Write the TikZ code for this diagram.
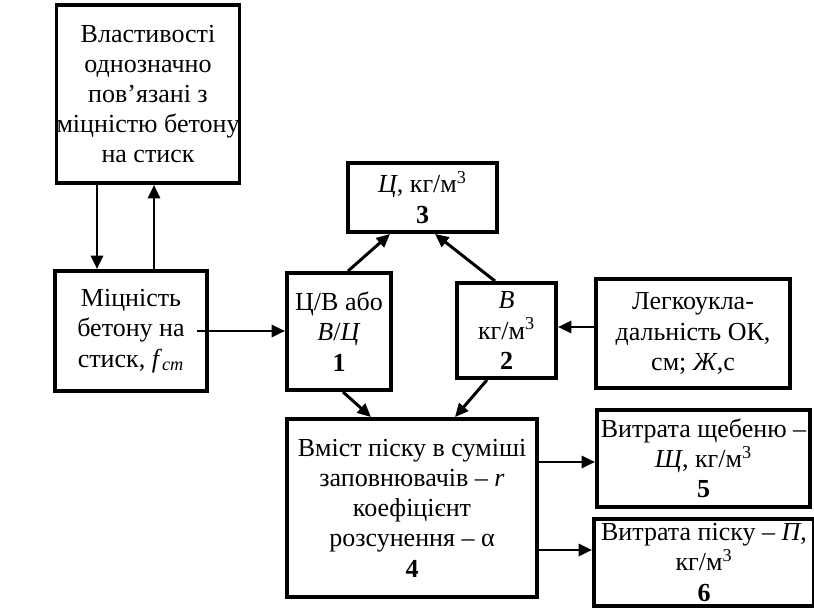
\documentclass[tikz,border=0pt]{standalone}
\usepackage{fontspec}
\setmainfont{Liberation Serif}
\usetikzlibrary{positioning, arrows.meta, calc}

\begin{document}
\begin{tikzpicture}[
  blk/.style 2 args={
    rectangle, draw=black, line width=2.2pt,
    minimum width=#1cm, minimum height=#2cm,
    align=center, inner sep=0pt,
    font=\fontsize{14.8}{17.2}\selectfont
  },
  arr/.style={line width=1.7pt, -{Triangle[length=0.27cm,width=0.24cm]}},
]

\useasboundingbox (0,0) rectangle (16.28,-12.22);

% properties linked to strength
\node[blk={3.64}{3.56}] (prop) at (2.96,-1.88) {
  Властивості\\
  однозначно\\
  пов’язані з\\
  міцністю бетону\\
  на стиск
};

% compressive strength
\node[blk={3.04}{2.40}] (fcm) at (2.62,-6.62) {
  Міцність\\
  бетону на\\
  стиск, \textit{f}\textsubscript{\textit{cm}}
};

% C/W ratio
\node[blk={2.08}{2.34}] (b1) at (6.78,-6.63) {
  Ц/В або\\
  \textit{В}/\textit{Ц}\\
  \textbf{1}
};

% water
\node[blk={1.98}{1.90}] (b2) at (10.13,-6.61) {
  \textit{В}\\
  кг/м\textsuperscript{3}\\
  \textbf{2}
};

% cement
\node[blk={2.98}{1.38}] (b3) at (8.45,-3.95) {
  \textit{Ц}, кг/м\textsuperscript{3}\\
  \textbf{3}
};

% workability
\node[blk={3.88}{2.18}] (work) at (13.86,-6.67) {
  Легкоукла-\\
  дальність ОК,\\
  см; \textit{Ж},с
};

% sand fraction
\node[blk={5.00}{3.56}] (b4) at (8.24,-10.16) {
  Вміст піску в суміші\\
  заповнювачів – \textit{r}\\
  коефіцієнт\\
  розсунення – α\\
  \textbf{4}
};

% crushed stone
\node[blk={4.26}{1.94}] (b5) at (14.07,-9.17) {
  Витрата щебеню –\\
  \textit{Щ}, кг/м\textsuperscript{3}\\
  \textbf{5}
};

% sand
\node[blk={4.40}{1.74}] (b6) at (14.08,-11.25) {
  Витрата піску – \textit{П},\\
  кг/м\textsuperscript{3}\\
  \textbf{6}
};

\draw[arr] ([xshift=-0.68cm]fcm.north |- prop.south) -- ([xshift=-0.68cm]fcm.north);
\draw[arr] ([xshift=0.46cm]fcm.north) -- ([xshift=0.46cm]fcm.north |- prop.south);
\draw[arr] ([xshift=-0.24cm]fcm.east) -- (fcm.east -| b1.west);
\draw[arr] ([xshift=0.18cm]b1.north) -- ([xshift=-0.65cm]b3.south);
\draw[arr] ([xshift=-0.23cm]b2.north) -- ([xshift=0.25cm]b3.south);
\draw[arr] ([yshift=0.13cm]work.west) -- ([yshift=0.13cm]work.west -| b2.east);
\draw[arr] ([xshift=0.08cm]b1.south) -- ([xshift=-0.82cm]b4.north);
\draw[arr] ([xshift=-0.39cm]b2.south) -- ([xshift=0.86cm]b4.north);
\draw[arr] ([yshift=0.92cm]b4.east) -- ([yshift=0.92cm]b4.east -| b5.west);
\draw[arr] ([yshift=-0.84cm]b4.east) -- ([yshift=-0.84cm]b4.east -| b6.west);

\end{tikzpicture}
\end{document}
